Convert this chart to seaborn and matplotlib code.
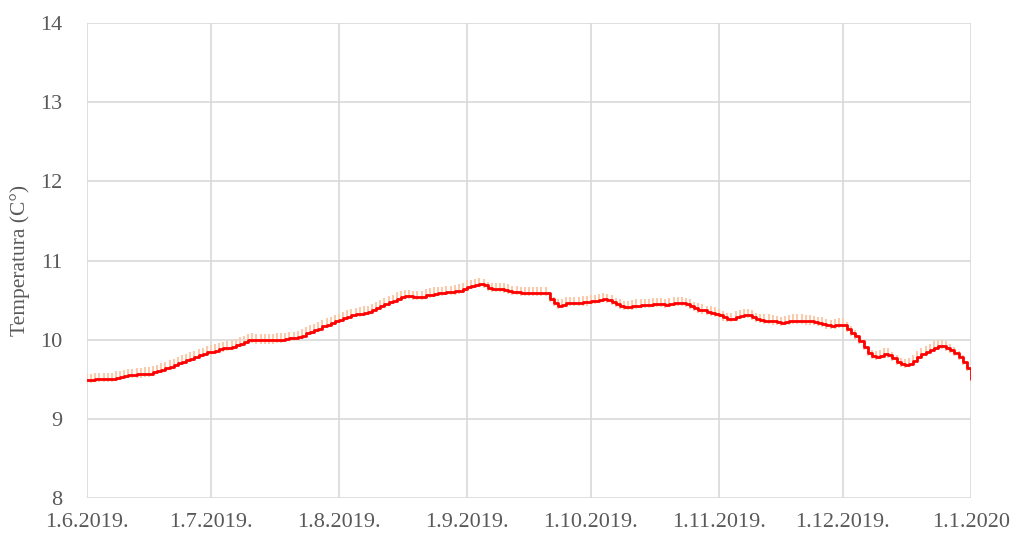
import numpy as np
import pandas as pd
import matplotlib
matplotlib.use('Agg')
import matplotlib.pyplot as plt
import seaborn as sns

# daily mean temperature
jun = [9.49, 9.49, 9.50, 9.50, 9.50, 9.50, 9.50, 9.52, 9.53, 9.54,
       9.55, 9.55, 9.56, 9.56, 9.57, 9.57, 9.59, 9.60, 9.62, 9.64,
       9.66, 9.68, 9.70, 9.72, 9.74, 9.76, 9.78, 9.80, 9.82, 9.84]
jul = [9.85, 9.86, 9.88, 9.89, 9.90, 9.91, 9.93, 9.95, 9.97, 9.99,
       10.00, 9.99, 9.99, 9.99, 9.99, 9.99, 10.00, 10.00, 10.01, 10.02,
       10.02, 10.03, 10.05, 10.08, 10.10, 10.12, 10.14, 10.17, 10.19, 10.21,
       10.23]
aug = [10.25, 10.27, 10.29, 10.31, 10.32, 10.33, 10.34, 10.35, 10.37, 10.40,
       10.42, 10.45, 10.47, 10.49, 10.52, 10.54, 10.55, 10.55, 10.54, 10.54,
       10.54, 10.56, 10.57, 10.58, 10.59, 10.59, 10.60, 10.60, 10.61, 10.62,
       10.64]
sep = [10.67, 10.68, 10.69, 10.70, 10.69, 10.65, 10.64, 10.64, 10.64, 10.63,
       10.62, 10.60, 10.60, 10.59, 10.59, 10.59, 10.59, 10.59, 10.59, 10.59,
       10.52, 10.46, 10.43, 10.44, 10.46, 10.46, 10.46, 10.46, 10.47, 10.47]
oct_ = [10.49, 10.49, 10.50, 10.51, 10.50, 10.48, 10.45, 10.43, 10.41, 10.41,
        10.42, 10.43, 10.44, 10.44, 10.44, 10.45, 10.45, 10.45, 10.44, 10.45,
        10.46, 10.46, 10.46, 10.45, 10.43, 10.40, 10.38, 10.37, 10.35, 10.34,
        10.33]
nov = [10.31, 10.28, 10.26, 10.26, 10.28, 10.30, 10.31, 10.31, 10.29, 10.26,
       10.25, 10.24, 10.24, 10.23, 10.22, 10.21, 10.22, 10.23, 10.24, 10.24,
       10.24, 10.23, 10.23, 10.22, 10.21, 10.20, 10.18, 10.17, 10.18, 10.19]
dec = [10.19, 10.14, 10.09, 10.04, 9.98, 9.91, 9.83, 9.79, 9.78, 9.79,
       9.82, 9.81, 9.77, 9.72, 9.69, 9.68, 9.69, 9.73, 9.78, 9.82,
       9.84, 9.87, 9.90, 9.92, 9.92, 9.90, 9.87, 9.83, 9.78, 9.72,
       9.64]
jan = [9.50]

err_low = 0.04
err_high = 0.08

tick_dates = ['2019-06-01', '2019-07-01', '2019-08-01', '2019-09-01',
              '2019-10-01', '2019-11-01', '2019-12-01', '2020-01-01']
tick_labels = ['1.6.2019.', '1.7.2019.', '1.8.2019.', '1.9.2019.',
               '1.10.2019.', '1.11.2019.', '1.12.2019.', '1.1.2020']
y_ticks = [8, 9, 10, 11, 12, 13, 14]

temps = jun + jul + aug + sep + oct_ + nov + dec + jan
df = pd.DataFrame({
    'datum': pd.date_range('2019-06-01', periods=len(temps), freq='D'),
    'temp': temps,
})

sns.set_style('white')
plt.rcParams['font.family'] = ['Liberation Serif', 'DejaVu Serif']

fig = plt.figure(figsize=(10.13, 5.33), dpi=100)
ax = fig.add_axes([0.0859, 0.0657, 0.8726, 0.8911])

ax.errorbar(df['datum'], df['temp'],
            yerr=[np.full(len(df), err_low), np.full(len(df), err_high)],
            fmt='none', ecolor='#F8CBAD', elinewidth=1.5, capsize=0, zorder=2)
sns.lineplot(data=df, x='datum', y='temp', ax=ax, color='#FF0000',
             linewidth=2, drawstyle='steps-post', zorder=3)

ax.set_ylim(8, 14)
ax.set_xlim(pd.Timestamp(tick_dates[0]), pd.Timestamp(tick_dates[-1]))
ax.set_yticks(y_ticks)
ax.set_yticklabels([str(v) for v in y_ticks])
ax.set_xticks(pd.to_datetime(tick_dates))
ax.set_xticklabels(tick_labels)
ax.grid(True, color='#D9D9D9', linewidth=1.2)
ax.set_axisbelow(True)
for s in ax.spines.values():
    s.set_visible(False)

ax.tick_params(axis='both', length=0, labelsize=16, labelcolor='#595959')
ax.tick_params(axis='y', pad=18)
ax.tick_params(axis='x', pad=11)
ax.set_xlabel('')
ax.set_ylabel('Temperatura (C°)', fontsize=15.5, color='#595959', labelpad=7)

plt.savefig('out.png', dpi=100)
